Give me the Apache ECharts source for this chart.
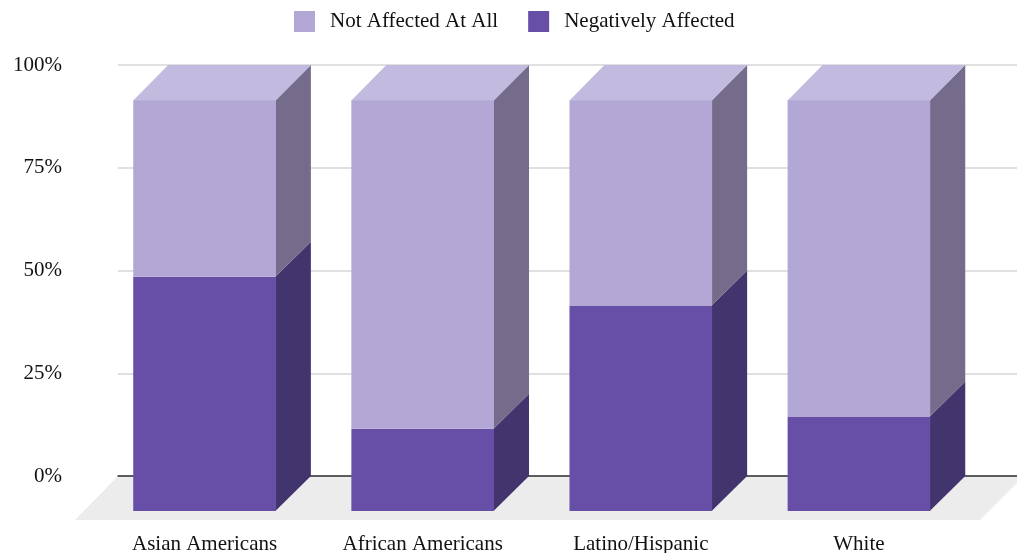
<!DOCTYPE html>
<html>
<head>
<meta charset="utf-8">
<script src="https://cdn.jsdelivr.net/npm/echarts@6/dist/echarts.min.js"></script>
<style>
  html, body { margin: 0; padding: 0; background: #ffffff; }
  #chart { width: 1017px; height: 553px; }
</style>
</head>
<body>
<div id="chart"></div>
<script>
// Survey groups and the share of each response (percent)
const categories = ['Asian Americans', 'African Americans', 'Latino/Hispanic', 'White'];
const negativelyAffected = [57, 20, 50, 23];
const notAffectedAtAll = [43, 80, 50, 77];
const yTickStep = 25;
const seriesNames = ['Not Affected At All', 'Negatively Affected'];

// Shading for the three visible faces of each block
const lightFaces = { front: '#b3a7d5', side: '#756b8b', top: '#c3badf' };
const darkFaces = { front: '#674fa7', side: '#42346c', top: '#7a63b8' };

const DEPTH = 35;          // pixel offset of the back face (up and right)
const BAR_RATIO = 0.654;   // bar width as a share of the category band
const FONT = '"Liberation Serif", "Times New Roman", serif';
const TEXT_COLOR = '#111';

// stacked [categoryIndex, start, end] rows
const darkRows = categories.map((c, i) => [i, 0, negativelyAffected[i]]);
const lightRows = categories.map((c, i) => [i, negativelyAffected[i], negativelyAffected[i] + notAffectedAtAll[i]]);

function blockRenderer(faces, withTop) {
  return function (params, api) {
    const idx = api.value(0);
    const pLo = api.coord([idx, api.value(1)]);
    const pHi = api.coord([idx, api.value(2)]);
    const w = api.size([1, 0])[0] * BAR_RATIO;
    const xl = pLo[0] - w / 2, xr = pLo[0] + w / 2;
    const yb = pLo[1], yt = pHi[1];
    const children = [
      { type: 'polygon', shape: { points: [[xr - 0.5, yb], [xr + DEPTH, yb - DEPTH], [xr + DEPTH, yt - DEPTH], [xr - 0.5, yt]] },
        style: { fill: faces.side } },
      { type: 'rect', shape: { x: xl, y: yt, width: w, height: yb - yt },
        style: { fill: faces.front } }
    ];
    if (withTop) {
      children.push({ type: 'polygon',
        shape: { points: [[xl, yt + 0.5], [xl + DEPTH, yt - DEPTH], [xr + DEPTH, yt - DEPTH], [xr, yt + 0.5]] },
        style: { fill: faces.top } });
    }
    return { type: 'group', children: children };
  };
}

const chart = echarts.init(document.getElementById('chart'), null, { renderer: 'canvas' });

chart.setOption({
  animation: false,
  backgroundColor: '#ffffff',
  legend: {
    left: 294,
    top: 11,
    padding: 0,
    itemWidth: 21,
    itemHeight: 21,
    itemGap: 30,
    icon: 'rect',
    textStyle: { fontFamily: FONT, fontSize: 21, color: TEXT_COLOR, padding: [0, 0, 0, 10] },
    data: [
      { name: seriesNames[0], itemStyle: { color: lightFaces.front } },
      { name: seriesNames[1], itemStyle: { color: darkFaces.front } }
    ]
  },
  graphic: [{
    // floor plane under the blocks
    type: 'polygon',
    z: -1,
    shape: { points: [[118, 476], [1024, 476], [980, 520], [75, 520]] },
    style: { fill: '#ececec' },
    silent: true
  }],
  grid: [
    // back plane: value scale and gridlines
    { left: 118, right: 0, top: 65, bottom: 77, outerBoundsMode: 'none', containLabel: false },
    // front plane: where the block faces sit
    { left: 95.5, right: 49, top: 100, bottom: 42, outerBoundsMode: 'none', containLabel: false }
  ],
  xAxis: [
    {
      gridIndex: 0, type: 'category', data: categories,
      axisLine: { show: true, lineStyle: { color: '#333', width: 1.5 } },
      axisTick: { show: false }, axisLabel: { show: false }, splitLine: { show: false }
    },
    {
      gridIndex: 1, type: 'category', data: categories,
      axisLine: { show: false }, axisTick: { show: false },
      axisLabel: { fontFamily: FONT, fontSize: 21, lineHeight: 21, color: TEXT_COLOR, margin: 23 }
    }
  ],
  yAxis: [
    {
      gridIndex: 0, type: 'value', min: 0, max: 100, interval: yTickStep,
      axisLine: { show: false }, axisTick: { show: false },
      axisLabel: { formatter: '{value}%', fontFamily: FONT, fontSize: 21, color: TEXT_COLOR, margin: 56 },
      splitLine: { show: true, lineStyle: { color: '#d6d6d6', width: 1.5 } }
    },
    {
      gridIndex: 1, type: 'value', min: 0, max: 100, show: false
    }
  ],
  series: [
    {
      name: seriesNames[1], type: 'custom', xAxisIndex: 1, yAxisIndex: 1,
      itemStyle: { color: darkFaces.front },
      encode: { x: 0, y: [1, 2] },
      renderItem: blockRenderer(darkFaces, false),
      data: darkRows
    },
    {
      name: seriesNames[0], type: 'custom', xAxisIndex: 1, yAxisIndex: 1,
      itemStyle: { color: lightFaces.front },
      encode: { x: 0, y: [1, 2] },
      renderItem: blockRenderer(lightFaces, true),
      data: lightRows
    }
  ]
});
</script>
</body>
</html>
